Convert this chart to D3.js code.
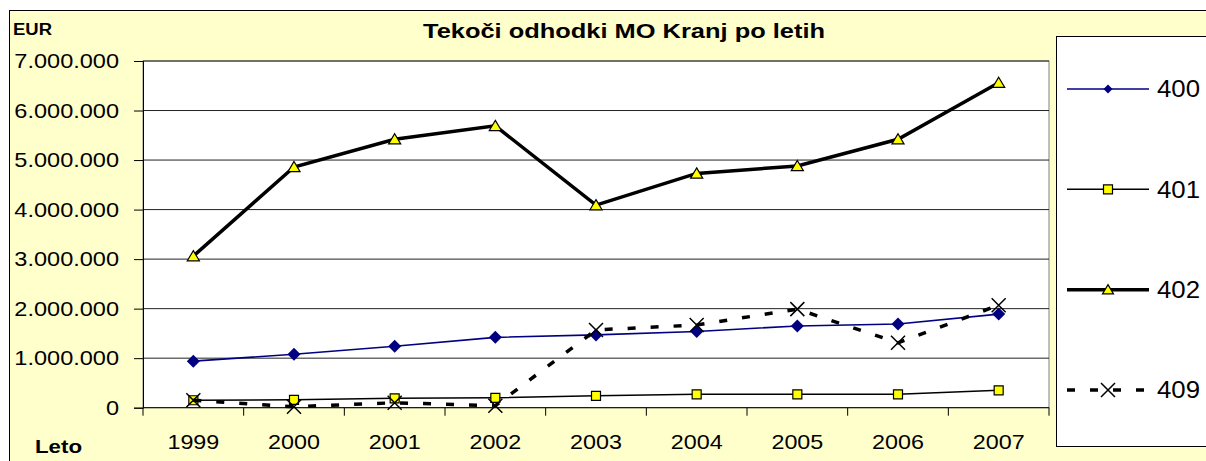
<!DOCTYPE html>
<html>
<head>
<meta charset="utf-8">
<script src="https://cdn.jsdelivr.net/npm/d3@7"></script>
<style>
  body { margin: 0; background: #fff; overflow: hidden; }
  svg { display: block; }
  text { font-family: "Liberation Sans", Arial, sans-serif; fill: #000; }
</style>
</head>
<body>
<div class="container"></div>
<script>
const years = ['1999', '2000', '2001', '2002', '2003', '2004', '2005', '2006', '2007'];
const s400 = [940000, 1080000, 1240000, 1420000, 1470000, 1540000, 1650000, 1690000, 1890000];
const s401 = [150000, 160000, 190000, 200000, 240000, 270000, 270000, 270000, 350000];
const s402 = [3060000, 4860000, 5420000, 5690000, 4090000, 4730000, 4880000, 5420000, 6560000];
const s409 = [150000, 20000, 100000, 40000, 1570000, 1670000, 1990000, 1310000, 2070000];
const seriesNames = ['400', '401', '402', '409'];
const yTicks = [0, 1000000, 2000000, 3000000, 4000000, 5000000, 6000000, 7000000];

const width = 1206;
const height = 461;
const plot = { left: 143, top: 61, right: 1049, bottom: 407.7 };

const svg = d3
  .select('.container')
  .append('svg')
  .attr('width', width)
  .attr('height', height);

// chart area + plot area
svg.append('rect')
  .attr('x', 9.5).attr('y', 10.5)
  .attr('width', 1300).attr('height', 500)
  .attr('fill', '#ffffcc').attr('stroke', '#000');

svg.append('rect')
  .attr('x', plot.left).attr('y', plot.top)
  .attr('width', plot.right - plot.left).attr('height', plot.bottom - plot.top)
  .attr('fill', '#fff').attr('stroke', '#808080');

const x = d3.scaleBand().domain(years).range([plot.left, plot.right]);
const y = d3.scaleLinear().domain([0, 7000000]).range([plot.bottom, plot.top]);
const cx = (d) => x(d) + x.bandwidth() / 2;

const fmt = d3.formatLocale({ decimal: ',', thousands: '.', grouping: [3], currency: ['', ''] }).format(',');

const stretch = (sel, k) => sel.each(function () {
  const w = this.getComputedTextLength();
  d3.select(this).attr('textLength', w * k).attr('lengthAdjust', 'spacingAndGlyphs');
});

// gridlines
svg.append('g')
  .selectAll('line')
  .data(yTicks.slice(1))
  .join('line')
  .attr('x1', plot.left).attr('x2', plot.right)
  .attr('y1', (d) => y(d)).attr('y2', (d) => y(d))
  .attr('stroke', '#222').attr('stroke-width', 1);

// y axis
const yAxis = svg.append('g')
  .attr('transform', `translate(${plot.left},0)`)
  .call(d3.axisLeft(y).tickValues(yTicks).tickFormat(fmt).tickSize(9).tickPadding(15));
yAxis.select('.domain').attr('stroke', '#000');
yAxis.selectAll('.tick line').attr('stroke', '#000');
yAxis.selectAll('text')
  .attr('font-size', 21)
  .style('font-family', '"Liberation Sans", Arial, sans-serif')
  .call(stretch, 1.12);

// x axis: labels centred in band, ticks at band edges
const xAxis = svg.append('g')
  .attr('transform', `translate(0,${plot.bottom})`)
  .call(d3.axisBottom(x).tickSize(0).tickPadding(26));
xAxis.select('.domain').remove();
xAxis.selectAll('text')
  .attr('font-size', 21)
  .style('font-family', '"Liberation Sans", Arial, sans-serif')
  .call(stretch, 1.11);

svg.append('line')
  .attr('x1', plot.left).attr('x2', plot.right)
  .attr('y1', plot.bottom).attr('y2', plot.bottom)
  .attr('stroke', '#000');
svg.append('g')
  .selectAll('line')
  .data(years.concat(['end']))
  .join('line')
  .attr('x1', (d) => (d === 'end' ? plot.right : x(d)))
  .attr('x2', (d) => (d === 'end' ? plot.right : x(d)))
  .attr('y1', plot.bottom).attr('y2', plot.bottom + 8)
  .attr('stroke', '#000');

// titles
svg.append('text')
  .attr('x', 423).attr('y', 38)
  .attr('font-size', 20).attr('font-weight', 'bold')
  .attr('textLength', 402).attr('lengthAdjust', 'spacingAndGlyphs')
  .text('Tekoči odhodki MO Kranj po letih');

svg.append('text')
  .attr('x', 13).attr('y', 35)
  .attr('font-size', 16).attr('font-weight', 'bold')
  .attr('textLength', 39).attr('lengthAdjust', 'spacingAndGlyphs')
  .text('EUR');

svg.append('text')
  .attr('x', 35).attr('y', 453)
  .attr('font-size', 18).attr('font-weight', 'bold')
  .attr('textLength', 47).attr('lengthAdjust', 'spacingAndGlyphs')
  .text('Leto');

// markers
const diamond = (r) => `M0,${-r}L${r},0L0,${r}L${-r},0Z`;
const square = (r) => `M${-r},${-r}H${r}V${r}H${-r}Z`;
const triangle = (r) => `M0,${-r}L${r * 1.1},${r * 0.85}L${-r * 1.1},${r * 0.85}Z`;
const cross = (r) => `M${-r},${-r}L${r},${r}M${-r},${r}L${r},${-r}`;

const series = [
  { name: '400', values: s400, stroke: '#000080', width: 1.6, dash: null, marker: diamond, mr: 6.5, lr: 4.5, fill: '#000080', mstroke: '#000080', mw: 0 },
  { name: '401', values: s401, stroke: '#000', width: 1.5, dash: null, marker: square, mr: 4.5, lr: 4.5, fill: '#ffff00', mstroke: '#000', mw: 1.2 },
  { name: '402', values: s402, stroke: '#000', width: 3.5, dash: null, marker: triangle, mr: 5.5, lr: 5, fill: '#ffff00', mstroke: '#000', mw: 1.2 },
  { name: '409', values: s409, stroke: '#000', width: 3.5, dash: '8,15', marker: cross, mr: 7, lr: 7, fill: 'none', mstroke: '#000', mw: 1.5 }
];

const line = d3.line().x((d, i) => cx(years[i])).y((d) => y(d));

series.forEach((s) => {
  const g = svg.append('g').attr('class', 'series s' + s.name);
  g.append('path')
    .datum(s.values)
    .attr('fill', 'none')
    .attr('stroke', s.stroke)
    .attr('stroke-width', s.width)
    .attr('stroke-dasharray', s.dash)
    .attr('d', line);
  g.selectAll('path.m')
    .data(s.values)
    .join('path')
    .attr('class', 'm')
    .attr('transform', (d, i) => `translate(${cx(years[i])},${y(d)})`)
    .attr('d', s.marker(s.mr))
    .attr('fill', s.fill)
    .attr('stroke', s.mstroke)
    .attr('stroke-width', s.mw);
});

// legend
svg.append('rect')
  .attr('x', 1056.5).attr('y', 36.5)
  .attr('width', 200).attr('height', 410)
  .attr('fill', '#fff').attr('stroke', '#000');

const ly = d3.scalePoint().domain(seriesNames).range([89, 390]);
const legend = svg.append('g')
  .selectAll('g')
  .data(series)
  .join('g')
  .attr('transform', (d) => `translate(0,${ly(d.name)})`);
legend.append('line')
  .attr('x1', 1067).attr('x2', 1149)
  .attr('stroke', (d) => d.stroke)
  .attr('stroke-width', (d) => d.width)
  .attr('stroke-dasharray', (d) => d.dash);
legend.append('path')
  .attr('transform', 'translate(1108,0)')
  .attr('d', (d) => d.marker(d.lr))
  .attr('fill', (d) => d.fill)
  .attr('stroke', (d) => d.mstroke)
  .attr('stroke-width', (d) => d.mw);
legend.append('text')
  .attr('x', 1157).attr('dy', '0.36em')
  .attr('font-size', 23)
  .text((d) => d.name)
  .call(stretch, 1.12);
</script>
</body>
</html>
